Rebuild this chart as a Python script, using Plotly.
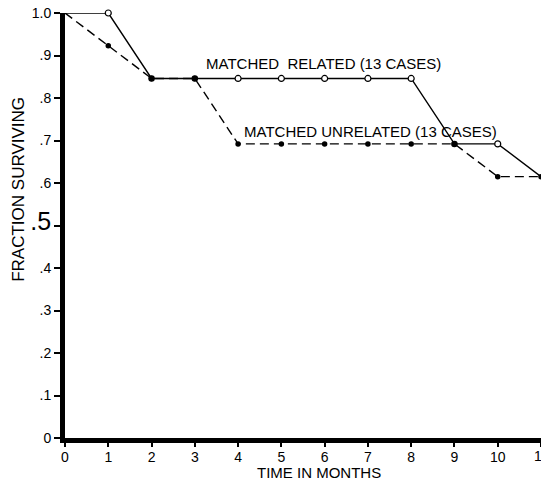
import plotly.graph_objects as go

months = [0, 1, 2, 3, 4, 5, 6, 7, 8, 9, 10, 11]
related = [1.0, 1.0, 0.846, 0.846, 0.846, 0.846, 0.846, 0.846, 0.846, 0.692, 0.692, 0.615]
unrelated = [1.0, 0.923, 0.846, 0.846, 0.692, 0.692, 0.692, 0.692, 0.692, 0.692, 0.615, 0.615]
ytick_vals = [0, 0.1, 0.2, 0.3, 0.4, 0.5, 0.6, 0.7, 0.8, 0.9, 1.0]
ytick_text = ["0", ".1", ".2", ".3", ".4", "<span style='font-size:25px'>.5</span>", ".6", ".7", ".8", ".9", "1.0"]
xtick_vals = list(range(0, 12))
xtick_text = [str(v) for v in xtick_vals]

FONT = "Liberation Sans"

# indices where the two curves coincide (drawn as filled dots)
shared_idx = [2, 3, 9]
rel_marker_idx = [1, 4, 5, 6, 7, 8, 10]

fig = go.Figure()
fig.add_trace(go.Scatter(
    x=months, y=unrelated, mode="lines",
    line=dict(color="black", width=1.4, dash="9px,5px"),
    cliponaxis=False, showlegend=False))
fig.add_trace(go.Scatter(
    x=months, y=related, mode="lines",
    line=dict(color="black", width=1.4),
    cliponaxis=False, showlegend=False))
fig.add_trace(go.Scatter(
    x=months[1:], y=unrelated[1:], mode="markers",
    marker=dict(symbol="circle", size=5.5, color="black"),
    cliponaxis=False, showlegend=False))
fig.add_trace(go.Scatter(
    x=[months[i] for i in rel_marker_idx], y=[related[i] for i in rel_marker_idx], mode="markers",
    marker=dict(symbol="circle", size=6, color="white", line=dict(color="black", width=1.2)),
    cliponaxis=False, showlegend=False))
fig.add_trace(go.Scatter(
    x=[months[i] for i in shared_idx], y=[unrelated[i] for i in shared_idx], mode="markers",
    marker=dict(symbol="circle", size=6.5, color="black"),
    cliponaxis=False, showlegend=False))

fig.add_annotation(x=3.22, y=0.882, xref="x", yref="y", text="MATCHED  RELATED (13 CASES)",
                   showarrow=False, xanchor="left", yanchor="middle",
                   font=dict(family=FONT, size=15, color="black"))
fig.add_annotation(x=4.1, y=0.722, xref="x", yref="y", text="MATCHED UNRELATED (13 CASES)",
                   showarrow=False, xanchor="left", yanchor="middle",
                   font=dict(family=FONT, size=15, color="black"))
fig.add_annotation(x=5.87, y=-0.081, xref="x", yref="paper", text="TIME IN MONTHS",
                   showarrow=False, xanchor="center", yanchor="middle",
                   font=dict(family=FONT, size=15, color="black"))
fig.add_annotation(x=0, y=0.584, xref="paper", yref="paper", xshift=-46, text="FRACTION SURVIVING",
                   textangle=-90, showarrow=False, xanchor="center", yanchor="middle",
                   font=dict(family=FONT, size=17, color="black"))
# last tick label sits on the page edge (cut off, as in the original)
fig.add_annotation(x=xtick_vals[-1], y=0, xref="x", yref="paper", yshift=-18,
                   text=xtick_text[-1], showarrow=False, xanchor="center", yanchor="middle",
                   font=dict(family=FONT, size=14, color="black"))

fig.update_layout(
    width=541, height=481,
    margin=dict(l=65, r=0, t=13, b=43),
    paper_bgcolor="white", plot_bgcolor="white",
    font=dict(family=FONT, size=14, color="black"),
    xaxis=dict(range=[0, 11], tickvals=xtick_vals[:-1] + [xtick_vals[-1]],
               ticktext=xtick_text[:-1] + [""],
               showgrid=False, zeroline=False, showline=True, linecolor="black", linewidth=5,
               ticks="outside", ticklen=4, tickwidth=1.5, tickcolor="black",
               ticklabelstandoff=-2, automargin=False,
               tickfont=dict(family=FONT, size=14)),
    yaxis=dict(range=[0, 1.0], tickvals=ytick_vals, ticktext=ytick_text,
               showgrid=False, zeroline=False, showline=True, linecolor="black", linewidth=5,
               ticks="outside", ticklen=6, tickwidth=1.5, tickcolor="black",
               automargin=False,
               tickfont=dict(family=FONT, size=14)),
)

fig.write_html("out.html")
